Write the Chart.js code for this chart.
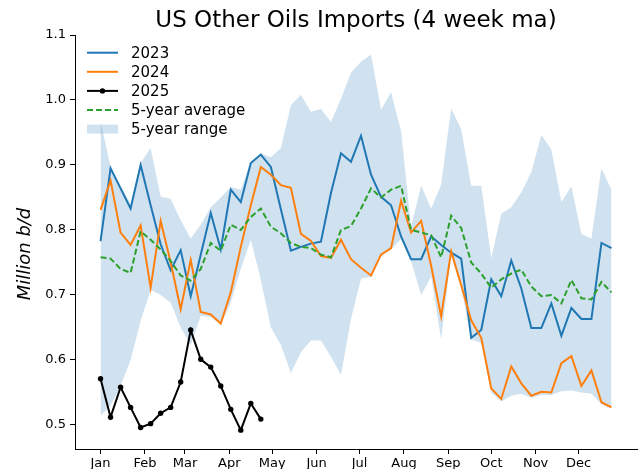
<!DOCTYPE html>
<html>
<head>
<meta charset="utf-8">
<title>US Other Oils Imports</title>
<script src="https://cdn.jsdelivr.net/npm/chart.js@4.4.1/dist/chart.umd.min.js"></script>
<style>
  html, body { margin: 0; padding: 0; background: #ffffff; }
  canvas { display: block; }
</style>
</head>
<body>
<canvas id="chart" width="641" height="469"></canvas>
<script>
// Week start, as day of year, for each weekly observation
const weekDays = [1, 8, 15, 22, 29, 36, 43, 50, 57, 64, 71, 78, 85, 92, 99, 106, 113,
  120, 127, 134, 141, 148, 155, 162, 169, 176, 183, 190, 197, 204, 211, 218, 225,
  232, 239, 246, 253, 260, 267, 274, 281, 288, 295, 302, 309, 316, 323, 330, 337,
  344, 351, 358];

// Month tick positions (day of year) and their labels
const monthStarts = [1, 32, 60, 91, 121, 152, 182, 213, 244, 274, 305, 335];
const monthLabels = ['Jan', 'Feb', 'Mar', 'Apr', 'May', 'Jun', 'Jul', 'Aug', 'Sep', 'Oct', 'Nov', 'Dec'];
const yTicks = [0.5, 0.6, 0.7, 0.8, 0.9, 1.0, 1.1];

// Million barrels per day, 4-week moving average
const imports2023 = [0.783, 0.895, 0.864, 0.833, 0.900, 0.838, 0.778, 0.738, 0.769, 0.698,
  0.762, 0.826, 0.770, 0.862, 0.843, 0.903, 0.916, 0.897, 0.832, 0.768, 0.774, 0.779,
  0.782, 0.857, 0.918, 0.905, 0.945, 0.885, 0.851, 0.838, 0.790, 0.755, 0.755, 0.790,
  0.777, 0.765, 0.756, 0.634, 0.646, 0.724, 0.698, 0.753, 0.710, 0.649, 0.649, 0.687,
  0.637, 0.680, 0.663, 0.663, 0.780, 0.772];

const imports2024 = [0.831, 0.876, 0.796, 0.777, 0.807, 0.711, 0.814, 0.750, 0.678, 0.754,
  0.674, 0.670, 0.656, 0.704, 0.774, 0.838, 0.897, 0.885, 0.869, 0.865, 0.794, 0.783,
  0.760, 0.757, 0.785, 0.755, 0.742, 0.730, 0.762, 0.772, 0.845, 0.796, 0.814, 0.745,
  0.667, 0.767, 0.715, 0.661, 0.634, 0.556, 0.540, 0.590, 0.564, 0.545, 0.551, 0.550,
  0.595, 0.606, 0.560, 0.584, 0.535, 0.527];

const imports2025 = [0.571, 0.512, 0.558, 0.527, 0.496, 0.502, 0.518, 0.527, 0.566, 0.646,
  0.601, 0.589, 0.560, 0.524, 0.492, 0.533, 0.509];

const fiveYearAvg = [0.758, 0.756, 0.740, 0.734, 0.798, 0.785, 0.770, 0.752, 0.730, 0.722,
  0.740, 0.780, 0.768, 0.808, 0.800, 0.820, 0.833, 0.805, 0.795, 0.780, 0.774, 0.772,
  0.762, 0.758, 0.800, 0.806, 0.833, 0.864, 0.850, 0.862, 0.868, 0.800, 0.796, 0.792,
  0.758, 0.822, 0.803, 0.750, 0.733, 0.711, 0.724, 0.733, 0.739, 0.713, 0.698, 0.700,
  0.687, 0.723, 0.695, 0.693, 0.720, 0.704];

const fiveYearMax = [0.966, 0.898, 0.868, 0.840, 0.903, 0.926, 0.851, 0.848, 0.815, 0.787,
  0.808, 0.835, 0.850, 0.866, 0.862, 0.905, 0.918, 0.912, 0.926, 0.992, 1.008, 0.982,
  0.986, 0.966, 1.002, 1.042, 1.059, 1.070, 0.985, 1.012, 0.952, 0.805, 0.868, 0.833,
  0.870, 0.987, 0.955, 0.868, 0.868, 0.757, 0.825, 0.835, 0.858, 0.889, 0.946, 0.924,
  0.843, 0.867, 0.794, 0.787, 0.895, 0.862];

const fiveYearMin = [0.514, 0.530, 0.560, 0.600, 0.660, 0.708, 0.700, 0.688, 0.650, 0.623,
  0.668, 0.666, 0.654, 0.688, 0.740, 0.785, 0.723, 0.650, 0.623, 0.580, 0.612, 0.630,
  0.630, 0.605, 0.577, 0.663, 0.725, 0.728, 0.760, 0.770, 0.786, 0.752, 0.700, 0.728,
  0.631, 0.762, 0.712, 0.632, 0.626, 0.550, 0.536, 0.545, 0.548, 0.542, 0.546, 0.546,
  0.552, 0.553, 0.550, 0.548, 0.532, 0.525];

const FONT = '"DejaVu Sans", "Liberation Sans", sans-serif';
const BLUE = '#1f77b4';
const ORANGE = '#ff7f0e';
const GREEN = '#2ca02c';
const BAND = 'rgba(31, 119, 180, 0.21)';
const Y_LABEL = 'Million b/d';

const toPoints = vals => vals.map((v, i) => ({ x: weekDays[i], y: v }));

// Legend drawn inside the plot, upper-left, without a frame
const legendOrder = [0, 1, 2, 3, 5];
const insideLegend = {
  id: 'insideLegend',
  afterDraw(chart) {
    const { ctx, chartArea } = chart;
    const x0 = chartArea.left + 12;
    const handle = 31;
    const textX = x0 + 44;
    let y = chartArea.top + 17.7;
    ctx.save();
    ctx.font = '15px ' + FONT;
    ctx.textBaseline = 'middle';
    ctx.textAlign = 'left';
    legendOrder.forEach(idx => {
      const ds = chart.data.datasets[idx];
      if (ds.fill) {
        ctx.fillStyle = ds.backgroundColor;
        ctx.fillRect(x0, y - 4.5, handle, 9);
      } else {
        ctx.strokeStyle = ds.borderColor;
        ctx.lineWidth = ds.borderWidth;
        ctx.setLineDash(ds.borderDash || []);
        ctx.beginPath();
        ctx.moveTo(x0, y);
        ctx.lineTo(x0 + handle, y);
        ctx.stroke();
        ctx.setLineDash([]);
        if (ds.pointRadius > 0) {
          ctx.fillStyle = ds.pointBackgroundColor;
          ctx.beginPath();
          ctx.arc(x0 + handle / 2, y, ds.pointRadius, 0, Math.PI * 2);
          ctx.fill();
        }
      }
      ctx.fillStyle = '#000';
      ctx.fillText(ds.label, textX, y + 1);
      y += 19.1;
    });
    ctx.restore();
  }
};

// Rotated units label left of the value axis
const valueAxisLabel = {
  id: 'valueAxisLabel',
  afterDraw(chart) {
    const { ctx, chartArea } = chart;
    ctx.save();
    ctx.translate(25, chartArea.top + 219);
    ctx.rotate(-Math.PI / 2);
    ctx.font = 'italic 18px ' + FONT;
    ctx.fillStyle = '#000';
    ctx.textAlign = 'center';
    ctx.textBaseline = 'middle';
    ctx.fillText(Y_LABEL, 0, 0);
    ctx.restore();
  }
};

const whiteBackground = {
  id: 'whiteBackground',
  beforeDraw(chart) {
    const { ctx, width, height } = chart;
    ctx.save();
    ctx.fillStyle = '#ffffff';
    ctx.fillRect(0, 0, width, height);
    ctx.restore();
  }
};

new Chart(document.getElementById('chart'), {
  type: 'line',
  data: {
    datasets: [
      {
        label: '2023', data: toPoints(imports2023), borderColor: BLUE, borderWidth: 2,
        pointRadius: 0, tension: 0, fill: false, order: 4
      },
      {
        label: '2024', data: toPoints(imports2024), borderColor: ORANGE, borderWidth: 2,
        pointRadius: 0, tension: 0, fill: false, order: 3
      },
      {
        label: '2025', data: toPoints(imports2025), borderColor: '#000000', borderWidth: 2,
        pointRadius: 2.7, pointBackgroundColor: '#000000', pointBorderWidth: 0,
        tension: 0, fill: false, order: 2
      },
      {
        label: '5-year average', data: toPoints(fiveYearAvg), borderColor: GREEN, borderWidth: 2,
        borderDash: [6, 3], pointRadius: 0, tension: 0, fill: false, order: 1
      },
      {
        label: '5-year low', data: toPoints(fiveYearMin), borderColor: 'rgba(0,0,0,0)',
        backgroundColor: 'rgba(0,0,0,0)', borderWidth: 0, pointRadius: 0, tension: 0,
        fill: false, order: 6
      },
      {
        label: '5-year range', data: toPoints(fiveYearMax), borderColor: 'rgba(0,0,0,0)',
        backgroundColor: BAND, borderWidth: 0, pointRadius: 0, tension: 0,
        fill: '-1', order: 5
      }
    ]
  },
  options: {
    responsive: false,
    animation: false,
    devicePixelRatio: 1,
    layout: { padding: { left: 0, right: 0, top: 0, bottom: 0 } },
    plugins: {
      legend: { display: false },
      tooltip: { enabled: false },
      title: {
        display: true,
        fullSize: false,
        text: 'US Other Oils Imports (4 week ma)',
        color: '#000000',
        font: { family: FONT, size: 23, weight: 'normal', lineHeight: 1.2 },
        padding: { top: 7.2, bottom: 0.2 }
      }
    },
    scales: {
      x: {
        type: 'linear',
        min: -16.85,
        max: 375.85,
        afterBuildTicks: scale => { scale.ticks = monthStarts.map(v => ({ value: v })); },
        afterFit: scale => { scale.height = 20; },
        ticks: {
          callback: v => monthLabels[monthStarts.indexOf(v)],
          color: '#000000',
          font: { family: FONT, size: 13 },
          padding: 2,
          maxRotation: 0,
          autoSkip: false
        },
        grid: { display: true, drawOnChartArea: false, drawTicks: true, tickLength: 5, color: '#000000' },
        border: { display: true, color: '#000000', width: 1 }
      },
      y: {
        type: 'linear',
        min: 0.463,
        max: 1.1,
        afterBuildTicks: scale => { scale.ticks = yTicks.map(v => ({ value: v })); },
        afterFit: scale => { scale.width = 75; },
        ticks: {
          callback: v => v.toFixed(1),
          color: '#000000',
          font: { family: FONT, size: 13 },
          padding: 4
        },
        grid: { display: true, drawOnChartArea: false, drawTicks: true, tickLength: 5, color: '#000000' },
        border: { display: true, color: '#000000', width: 1 }
      }
    }
  },
  plugins: [whiteBackground, insideLegend, valueAxisLabel]
});
</script>
</body>
</html>
